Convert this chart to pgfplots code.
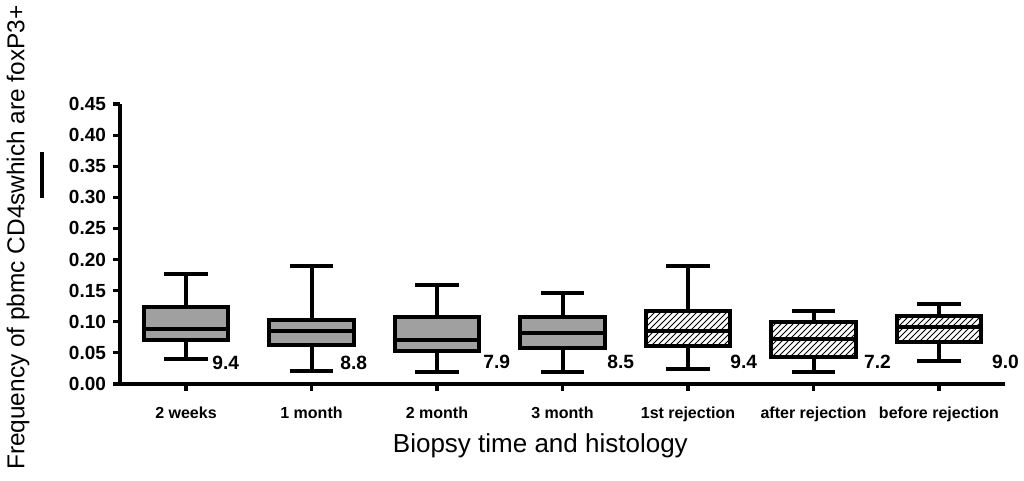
\documentclass[border=0pt]{standalone}
\usepackage{fontspec}
\setmainfont{Liberation Sans}
\usepackage{pgfplots}
\pgfplotsset{compat=1.18}
\usepgfplotslibrary{statistics}
\usetikzlibrary{patterns}

\definecolor{boxgray}{RGB}{160,160,160}

\pgfplotsset{
  graybox/.style={draw=black, line width=2pt, fill=boxgray, solid},
  hatchbox/.style={draw=black, line width=2pt, pattern=north east lines, solid},
}

\begin{document}
\begin{tikzpicture}
\begin{axis}[
  at={(0,0)}, anchor=south west,
  scale only axis, width=442.5pt, height=140pt,
  xmin=-0.526, xmax=6.526, ymin=0, ymax=0.45,
  axis x line*=bottom, axis y line*=left,
  axis line style={line width=1.6pt, -},
  tick align=outside, major tick length=3.5pt,
  tick style={line width=1.6pt, black},
  clip=false,
  xtick={0,1,2,3,4,5,6},
  xticklabels={2 weeks,1 month,2 month,3 month,1st rejection,after rejection,before rejection},
  xticklabel style={anchor=base, yshift=-13.75pt, font=\bfseries\fontsize{8}{10}\selectfont},
  ytick={0,0.05,0.10,0.15,0.20,0.25,0.30,0.35,0.40,0.45},
  yticklabel style={font=\bfseries\fontsize{9.5}{11}\selectfont,
    /pgf/number format/.cd, fixed, fixed zerofill, precision=2, assume math mode=true},
  xlabel={Biopsy time and histology},
  xlabel style={at={(axis description cs:0.475,-0.243)}, anchor=base, font=\fontsize{13}{15}\selectfont},
  ylabel={Frequency of pbmc CD4swhich are foxP3+},
  ylabel style={at={(axis description cs:-0.1153,0.523)}, anchor=center, font=\fontsize{12.2}{14}\selectfont},
  boxplot/draw direction=y,
]
% box values: lower whisker, lower quartile, median, upper quartile, upper whisker
\addplot[graybox, boxplot prepared={draw position=0, lower whisker=0.040, lower quartile=0.071,
  median=0.088, upper quartile=0.123, upper whisker=0.176, box extend=0.67, whisker extend=0.35}] coordinates {};
\addplot[graybox, boxplot prepared={draw position=1, lower whisker=0.021, lower quartile=0.063,
  median=0.085, upper quartile=0.103, upper whisker=0.189, box extend=0.67, whisker extend=0.35}] coordinates {};
\addplot[graybox, boxplot prepared={draw position=2, lower whisker=0.019, lower quartile=0.053,
  median=0.071, upper quartile=0.107, upper whisker=0.159, box extend=0.67, whisker extend=0.35}] coordinates {};
\addplot[graybox, boxplot prepared={draw position=3, lower whisker=0.019, lower quartile=0.058,
  median=0.082, upper quartile=0.107, upper whisker=0.146, box extend=0.67, whisker extend=0.35}] coordinates {};
\addplot[hatchbox, boxplot prepared={draw position=4, lower whisker=0.024, lower quartile=0.061,
  median=0.085, upper quartile=0.118, upper whisker=0.189, box extend=0.67, whisker extend=0.35}] coordinates {};
\addplot[hatchbox, boxplot prepared={draw position=5, lower whisker=0.019, lower quartile=0.044,
  median=0.072, upper quartile=0.099, upper whisker=0.118, box extend=0.67, whisker extend=0.35}] coordinates {};
\addplot[hatchbox, boxplot prepared={draw position=6, lower whisker=0.037, lower quartile=0.068,
  median=0.091, upper quartile=0.109, upper whisker=0.128, box extend=0.67, whisker extend=0.35}] coordinates {};

% numbers beside the boxes
\begin{scope}[every node/.style={anchor=west, inner sep=0pt, font=\bfseries\fontsize{9.6}{11}\selectfont}]
\node at (axis cs:0.207,0.034) {9.4};
\node at (axis cs:1.227,0.034) {8.8};
\node at (axis cs:2.367,0.035) {7.9};
\node at (axis cs:3.355,0.035) {8.5};
\node at (axis cs:4.335,0.035) {9.4};
\node at (axis cs:5.40,0.035) {7.2};
\node at (axis cs:6.42,0.035) {9.0};
\end{scope}

% bar beside the y label
\draw[line width=2pt] (axis description cs:-0.0881,0.664) -- (axis description cs:-0.0881,0.829);
\end{axis}
\pgfresetboundingbox
\path (-60pt,-48.5pt) rectangle (452pt,192pt);
\end{tikzpicture}
\end{document}
